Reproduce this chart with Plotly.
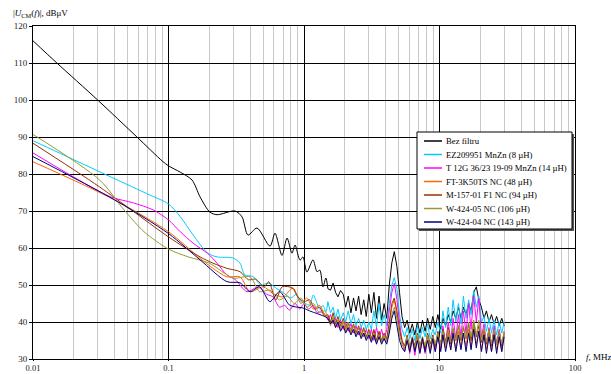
import plotly.graph_objects as go

# ---------------- data ----------------
names = ["Bez filtru", "EZ209951 MnZn (8 µH)", "T 12G 36/23 19-09 MnZn (14 µH)",
         "FT-3K50TS NC (48 µH)", "M-157-01 F1 NC (94 µH)", "W-424-05 NC (106 µH)",
         "W-424-04 NC (143 µH)"]
colors = ["#000000", "#00CCFF", "#FF00FF", "#FF6600", "#993300", "#999933", "#000080"]

x_tick_vals = [0.01, 0.1, 1, 10, 100]
x_tick_text = ["0.01", "0.1", "1", "10", "100"]
y_tick_vals = [30, 40, 50, 60, 70, 80, 90, 100, 110, 120]

# shared measurement grid of the noisy high-frequency part (MHz)
hf_f = [1.50, 1.57, 1.64, 1.71, 1.78, 1.86, 1.95, 2.03, 2.12, 2.22,
        2.32, 2.42, 2.53, 2.64, 2.76, 2.88, 3.01, 3.14, 3.28, 3.43,
        3.58, 3.74, 3.90, 4.08, 4.26, 4.45, 4.64, 4.85, 5.07, 5.29,
        5.53, 5.77, 6.03, 6.30, 6.58, 6.87, 7.17, 7.49, 7.83, 8.17,
        8.54, 8.92, 9.31, 9.73, 10.2, 10.6, 11.1, 11.6, 12.1, 12.6,
        13.2, 13.8, 14.4, 15.0, 15.7, 16.4, 17.1, 17.9, 18.7, 19.5,
        20.4, 21.3, 22.2, 23.2, 24.2, 25.3, 26.4, 27.6, 28.8, 30.0]

# Bez filtru
lf_f_0 = [0.01, 0.015, 0.03, 0.0585, 0.09, 0.1, 0.122, 0.149, 0.171, 0.202, 0.228, 0.31,
          0.349, 0.386, 0.45, 0.561, 0.611, 0.688, 0.75, 0.815, 0.859, 0.934, 0.983,
          1.05, 1.165, 1.247, 1.31, 1.38, 1.45]
lf_v_0 = [116, 110, 100, 90, 83.5, 82.2, 80.5, 78.4, 73.8, 69.7, 69, 70,
          68.4, 63.5, 65.4, 60.5, 64, 58, 62.7, 58.6, 60.8, 56.7, 57.6,
          53.5, 56.8, 53.6, 54, 49.5, 51.9]
hf_v_0 = [49, 48.6, 50.5, 48, 46.8, 48.5, 47.5, 44, 47, 42.5,
          46.5, 43, 47, 42, 46, 41.5, 47.5, 42.5, 48, 41,
          47, 40.5, 45, 41, 50, 56, 59, 55, 48, 41.5,
          38.5, 40.5, 37, 39.5, 36.5, 40, 37, 40.5, 37.5, 41,
          38, 41.5, 38.5, 42, 38, 41, 39, 42, 40, 43,
          41, 44, 41, 44, 42, 45, 43, 48, 49.5, 46,
          44, 41, 43, 40, 42, 39.5, 41.5, 39, 41, 39]

# EZ209951 MnZn (8 uH)
lf_f_1 = [0.01, 0.037, 0.073, 0.1, 0.122, 0.152, 0.195, 0.228, 0.30, 0.337, 0.366, 0.42,
          0.48, 0.55, 0.63, 0.70, 0.80, 0.88, 0.95, 1.02, 1.1, 1.17, 1.25, 1.3, 1.38, 1.45]
lf_v_1 = [89, 79.3, 74.3, 71.9, 68.5, 63.5, 58.6, 57.6, 57.3, 55.9, 52.7, 52.3,
          50, 50.5, 49, 48, 46.5, 47.5, 45.5, 45, 44.6, 47.3, 45, 43.5, 44.5, 42.8]
hf_v_1 = [45.5, 42.5, 44, 41, 43.5, 40.5, 42.5, 40, 43, 39.5,
          42, 39, 41, 38.5, 40.5, 38, 40, 38, 43, 38.5,
          45, 39, 42, 39, 45, 50, 52, 49, 42, 38,
          36, 38.5, 35.5, 38, 35, 39, 35.5, 38.5, 36, 39.5,
          35.5, 38, 36.5, 40, 37, 43, 38.5, 44, 39, 46,
          40, 45, 39.5, 47, 41, 46, 42, 48.5, 44, 47,
          40, 41.5, 37.5, 41, 37, 40.5, 36.5, 40, 37, 40]

# T 12G 36/23 19-09 MnZn (14 uH)
lf_f_2 = [0.01, 0.037, 0.055, 0.077, 0.1, 0.122, 0.152, 0.195, 0.228, 0.27, 0.31, 0.38,
          0.46, 0.53, 0.59, 0.66, 0.72, 0.78, 0.86, 0.93, 1.0, 1.08, 1.17, 1.25, 1.35, 1.45]
lf_v_2 = [85.7, 73.9, 72.2, 70.3, 67.6, 64.4, 61.3, 58.5, 55.9, 52.7, 51.5, 48.2,
          49.5, 47.5, 46.8, 44, 44.5, 43.2, 45, 43.5, 45, 43.5, 44.5, 42.5, 43, 41.5]
hf_v_2 = [40.5, 42, 39.5, 41, 38.5, 40.5, 38, 40, 37.5, 39.5,
          37, 39, 36.5, 38.5, 36, 38, 35.5, 38, 35, 38.5,
          35.5, 38, 35, 38, 43, 48, 50.5, 46, 40, 35,
          32, 36, 31.5, 35.5, 31, 36, 32, 35, 31.5, 36.5,
          32.5, 35.5, 32, 37, 33, 39, 34, 40, 35, 41,
          35.5, 42, 36, 43, 37, 45, 38, 47, 40, 46.5,
          36, 39.5, 34, 38.5, 33.5, 39, 34, 38, 33, 37.5]

# FT-3K50TS NC (48 uH)
lf_f_3 = [0.01, 0.04, 0.1, 0.171, 0.213, 0.27, 0.337, 0.40, 0.50, 0.59, 0.70, 0.83,
          0.95, 1.05, 1.17, 1.3, 1.42]
lf_v_3 = [83.3, 73, 64.4, 57.2, 54.5, 52.2, 52.2, 48.2, 49.5, 47.7, 46.8, 49.2,
          45, 46.5, 43.5, 44.5, 42]
hf_v_3 = [41.5, 39.5, 41, 38.5, 40.5, 38, 40, 37.5, 39.5, 37,
          39, 36.5, 38.5, 36, 38, 35.5, 37.5, 35, 37.5, 34.5,
          37, 34.5, 36.5, 35, 39, 44, 46, 42, 37, 34,
          32.5, 35.5, 32, 35, 32.5, 35.5, 32, 35, 32.5, 36,
          32, 35.5, 33, 36, 32.5, 36.5, 33, 37, 32.5, 36.5,
          33, 37.5, 33, 37, 33.5, 38, 33, 38.5, 34, 37.5,
          32.5, 37, 32.5, 36.5, 32, 37, 32.5, 36, 32, 36.5]

# M-157-01 F1 NC (94 uH)
lf_f_4 = [0.01, 0.031, 0.1, 0.171, 0.213, 0.27, 0.337, 0.39, 0.44, 0.51, 0.55, 0.62,
          0.69, 0.82, 0.9, 1.0, 1.1, 1.2, 1.3, 1.42]
lf_v_4 = [88.3, 76.5, 63, 57.6, 55.9, 54.5, 53.6, 51.4, 51.6, 49.5, 50.9, 46,
          49.5, 49.2, 46.8, 45.5, 46, 43.5, 44, 41.5]
hf_v_4 = [42, 40, 42.5, 39.5, 41.5, 39, 41, 38.5, 40, 37.5,
          39.5, 37, 39, 36.5, 38.5, 36, 38, 35.5, 38, 35,
          37.5, 35, 37, 35.5, 40, 45, 46.5, 43, 38, 35,
          33.5, 36.5, 33, 36, 33.5, 37, 33.5, 36, 33, 37,
          34, 36.5, 33.5, 37.5, 34, 38, 34.5, 38.5, 34, 38,
          35, 39, 35, 38.5, 35.5, 39.5, 35, 40, 36, 39,
          34.5, 38, 34, 38, 33.5, 37.5, 34, 37.5, 33.5, 37]

# W-424-05 NC (106 uH)
lf_f_5 = [0.01, 0.031, 0.047, 0.066, 0.1, 0.14, 0.2, 0.3, 0.40, 0.47, 0.56, 0.66,
          0.75, 0.85, 0.95, 1.05, 1.17, 1.3, 1.42]
lf_v_5 = [90.7, 78.4, 70.3, 64.4, 59.7, 57.6, 55.9, 51.9, 52.2, 48.2, 48.6, 46,
          47, 45, 46.5, 44, 45, 42.5, 43]
hf_v_5 = [41, 39, 41.5, 39, 40.5, 38.5, 40.5, 38, 40, 37.5,
          39, 36.5, 38.5, 36, 38, 35.5, 37.5, 35, 37, 34.5,
          36.5, 34.5, 36.5, 34.5, 38, 42, 44, 41, 36.5, 34,
          33, 36, 33, 35.5, 33, 36.5, 33, 35.5, 33.5, 36.5,
          33, 36, 34, 37, 34, 37.5, 34, 38, 34.5, 38.5,
          35, 39, 35.5, 39, 35.5, 40, 36, 40.5, 36.5, 40.5,
          35, 38.5, 34.5, 38, 34, 38, 34, 37.5, 34, 37.5]

# W-424-04 NC (143 uH)
lf_f_6 = [0.01, 0.04, 0.1, 0.171, 0.27, 0.337, 0.40, 0.47, 0.56, 0.66, 0.78, 0.86,
          0.98, 1.1, 1.2, 1.31, 1.42]
lf_v_6 = [84.7, 73, 63.9, 56.8, 50.9, 50.6, 48.2, 49.5, 45.5, 48.2, 44.6, 44.1,
          43.8, 43, 42.5, 42, 41.5]
hf_v_6 = [41, 39.5, 40.5, 38.5, 40, 37.5, 39, 37, 38.5, 36.5,
          38, 36, 37.5, 35.5, 37, 35, 36.5, 34.5, 36.5, 34,
          36, 34, 35.5, 34, 37, 41, 43, 39, 35, 33,
          32, 35, 32, 35.5, 32, 35, 31.5, 35.5, 32, 35,
          31.5, 35.5, 32, 36, 32, 36.5, 32, 36, 32.5, 37,
          32, 36.5, 32.5, 37, 32, 37, 32.5, 38, 33, 37.5,
          32, 36.5, 31.5, 36, 32, 36.5, 31.5, 36, 32, 36]

lf_f = [lf_f_0, lf_f_1, lf_f_2, lf_f_3, lf_f_4, lf_f_5, lf_f_6]
lf_v = [lf_v_0, lf_v_1, lf_v_2, lf_v_3, lf_v_4, lf_v_5, lf_v_6]
hf_v = [hf_v_0, hf_v_1, hf_v_2, hf_v_3, hf_v_4, hf_v_5, hf_v_6]

# ---------------- layout constants ----------------
W, H = 611, 374
ML, MR, MT, MB = 33, 36, 26, 15
PW, PH = W - ML - MR, H - MT - MB
FONT = "Liberation Serif, Times New Roman, serif"


def px(xp):
    return (xp - ML) / PW


def py(yp):
    return (H - MB - yp) / PH


fig = go.Figure()
for i in range(len(names)):
    # smooth low-frequency part
    fig.add_trace(go.Scatter(
        x=lf_f[i] + hf_f[:1], y=lf_v[i] + hf_v[i][:1], mode="lines", name=names[i],
        line=dict(color=colors[i], width=1, shape="spline", smoothing=0.8),
        showlegend=False, hoverinfo="skip"))
    # noisy high-frequency part
    fig.add_trace(go.Scatter(
        x=hf_f, y=hf_v[i], mode="lines", name=names[i],
        line=dict(color=colors[i], width=1),
        showlegend=False, hoverinfo="skip"))

# custom compact legend (box, shadow, samples, labels)
shapes = []
annotations = []
lx0, lx1, ly0, ly1 = 417, 572, 132, 229
shapes.append(dict(type="rect", xref="paper", yref="paper",
                   x0=px(lx0 + 2), x1=px(lx1 + 2), y0=py(ly0 + 2), y1=py(ly1 + 2),
                   line=dict(width=0), fillcolor="#555555", layer="above"))
shapes.append(dict(type="rect", xref="paper", yref="paper",
                   x0=px(lx0), x1=px(lx1), y0=py(ly0), y1=py(ly1),
                   line=dict(color="#000000", width=1), fillcolor="#ffffff", layer="above"))
row0, step = 141, 13.5
for i in range(len(names)):
    yy = row0 + i * step
    shapes.append(dict(type="line", xref="paper", yref="paper",
                       x0=px(424), x1=px(442), y0=py(yy), y1=py(yy),
                       line=dict(color=colors[i], width=1.5), layer="above"))
    annotations.append(dict(xref="paper", yref="paper", x=px(443.5), y=py(yy),
                            xanchor="left", yanchor="middle", showarrow=False,
                            text=names[i], font=dict(family=FONT, size=8.7, color="#000000")))

annotations.append(dict(xref="paper", yref="paper", x=px(11), y=py(14),
                        xanchor="left", yanchor="middle", showarrow=False,
                        text="|<i>U</i><sub>CM</sub>(<i>f</i>)|, dBμV",
                        font=dict(family=FONT, size=9, color="#000000")))
annotations.append(dict(xref="paper", yref="paper", x=px(584), y=py(357),
                        xanchor="left", yanchor="middle", showarrow=False,
                        text="<i>f</i>, MHz",
                        font=dict(family=FONT, size=9, color="#000000")))

fig.update_layout(
    width=W, height=H, margin=dict(l=ML, r=MR, t=MT, b=MB, autoexpand=False),
    paper_bgcolor="#ffffff", plot_bgcolor="#ffffff",
    font=dict(family=FONT, size=9, color="#222222"),
    showlegend=False, shapes=shapes, annotations=annotations, hovermode=False,
    xaxis=dict(type="log", range=[-2, 2], tickvals=x_tick_vals, ticktext=x_tick_text,
               automargin=False,
               showgrid=True, gridcolor="#000000", gridwidth=1,
               minor=dict(dtick="D1", showgrid=True, gridcolor="#c8c8c8", gridwidth=1,
                          ticks=""),
               showline=True, linecolor="#000000", linewidth=1, mirror=True,
               ticks="outside", ticklen=1, tickcolor="#000000", zeroline=False,
               tickfont=dict(family=FONT, size=8.5, color="#222222")),
    yaxis=dict(range=[30, 120], tickvals=y_tick_vals, automargin=False,
               showgrid=True, gridcolor="#000000", gridwidth=1,
               showline=True, linecolor="#000000", linewidth=1, mirror=True,
               ticks="outside", ticklen=3, tickcolor="#000000", zeroline=False,
               tickfont=dict(family=FONT, size=9, color="#222222")),
)

fig.write_html("out.html", config={"displayModeBar": False},
               post_script="document.body.style.margin='0';document.body.style.overflow='hidden';")
